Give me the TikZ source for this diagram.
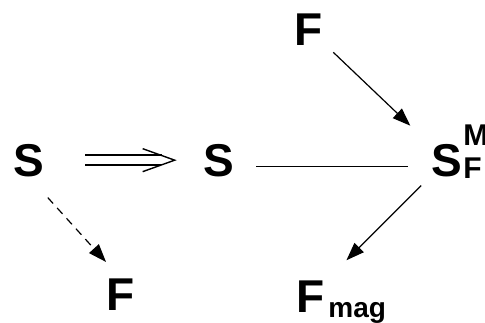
\documentclass[tikz,border=0pt]{standalone}
\usepackage{fontspec}
\setmainfont{Liberation Sans}
\usetikzlibrary{arrows.meta, positioning}

\begin{document}
\begin{tikzpicture}[
  x=0.5pt, y=-0.5pt,
  >={Triangle[length=9pt,width=6.5pt]},
  lbl/.style={inner sep=0pt, anchor=base, font=\fontsize{23}{28}\selectfont\bfseries},
  idx/.style={inner sep=0pt, anchor=base west, font=\fontsize{15}{18}\selectfont\bfseries},
  idxsmall/.style={inner sep=0pt, anchor=base west, font=\fontsize{14}{17}\selectfont\bfseries},
  arr/.style={->, line width=0.6pt},
  dbl/.style={line width=0.7pt}
]
  \useasboundingbox (0,0) rectangle (485,322);

  \node[lbl] (sA) at (29,176) {S};
  \node[lbl] (sB) at (219,176) {S};
  \node[lbl] (fTop) at (309,45) {F};
  \node[lbl] (fBot) at (120.5,310) {F};
  \node[lbl] (sFM) at (446.5,176) {S};
  \node[idx] (supM) at (463,145) {M};
  \node[idx] (subF) at (463,178) {F};
  \node[lbl] (fMag) at (310.5,312) {F};
  \node[idxsmall] (subMag) at (328,317) {mag};

  % implication S => S
  \draw[dbl] ([shift={(20.3pt,2.5pt)}]sA.east) -- ([shift={(-20.8pt,2.5pt)}]sB.west);
  \draw[dbl] ([shift={(20.3pt,-2.5pt)}]sA.east) -- ([shift={(-21.3pt,-2.5pt)}]sB.west);
  \draw[dbl] ([shift={(-30.3pt,5.75pt)}]sB.west) -- ([xshift=-14.3pt]sB.west)
    -- ([shift={(-30.3pt,-5.75pt)}]sB.west);

  \draw[arr, dashed, dash pattern=on 4pt off 3pt, shorten <=14pt, shorten >=10.8pt] (sA.south) -- (fBot.north);
  \draw[line width=0.6pt, shorten <=10.8pt, shorten >=11.6pt] ([yshift=-3.25pt]sB.east) -- ([yshift=-3.25pt]sFM.west);
  \draw[arr, shorten <=6.8pt, shorten >=14.1pt] (fTop) -- (sFM);
  \draw[arr, shorten <=6.8pt, shorten >=15.2pt] (sFM) -- (fMag);
\end{tikzpicture}
\end{document}
